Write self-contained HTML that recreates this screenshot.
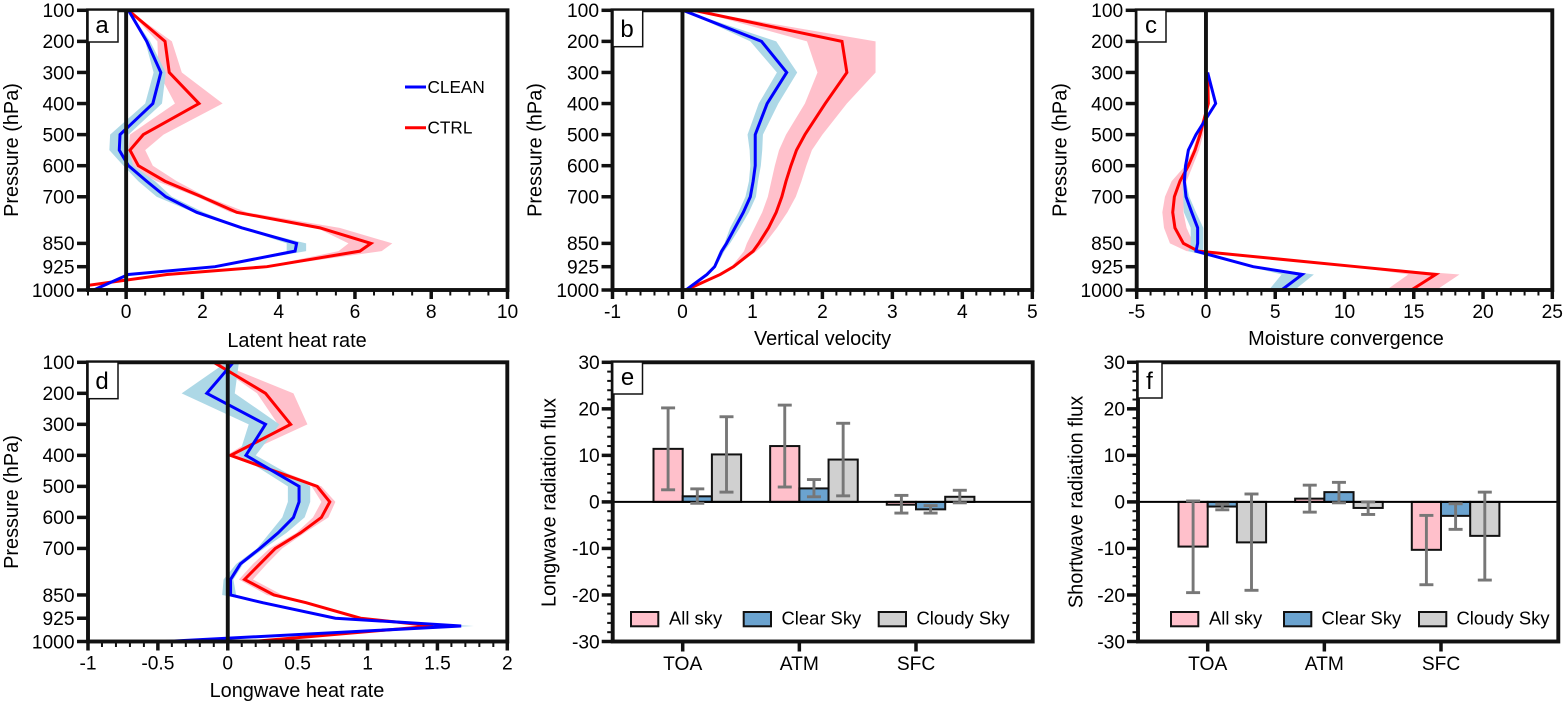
<!DOCTYPE html>
<html lang="en">
<head>
<meta charset="utf-8">
<title>Pressure profiles and radiation flux panels</title>
<style>
html,body{margin:0;padding:0;background:#fff;width:1568px;height:704px;overflow:hidden}
svg{display:block}
text{font-family:"Liberation Sans",Arial,sans-serif;fill:#000}
.tick{font-size:19.2px}
.title{font-size:19.9px}
.lg{font-size:17.2px}
.lg2{font-size:18.4px}
.letter{font-size:24px}
</style>
</head>
<body>
<svg id="chart" xmlns="http://www.w3.org/2000/svg" width="1568" height="704" viewBox="0 0 1568 704">
  <defs>
    <clipPath id="clip-a"><rect x="88" y="10" width="420" height="280"/></clipPath>
    <clipPath id="clip-b"><rect x="612" y="10" width="420" height="280"/></clipPath>
    <clipPath id="clip-c"><rect x="1136" y="10" width="416" height="280"/></clipPath>
    <clipPath id="clip-d"><rect x="88" y="362" width="420" height="280"/></clipPath>
  </defs>
  <g id="layer-a"></g>
  <g id="layer-b"></g>
  <g id="layer-c"></g>
  <g id="layer-d"></g>
  <g id="layer-e"></g>
  <g id="layer-f"></g>

  <g>
    <text class="title" x="297" y="347" text-anchor="middle">Latent heat rate</text>
    <text class="title" x="822.5" y="345" text-anchor="middle">Vertical velocity</text>
    <text class="title" x="1346" y="345" text-anchor="middle">Moisture convergence</text>
    <text class="title" x="297" y="697" text-anchor="middle">Longwave heat rate</text>
    <text class="title" text-anchor="middle" transform="translate(18,150) rotate(-90)">Pressure (hPa)</text>
    <text class="title" text-anchor="middle" transform="translate(541.5,150) rotate(-90)">Pressure (hPa)</text>
    <text class="title" text-anchor="middle" transform="translate(1066.5,150) rotate(-90)">Pressure (hPa)</text>
    <text class="title" text-anchor="middle" transform="translate(18,502) rotate(-90)">Pressure (hPa)</text>
    <text class="title" text-anchor="middle" transform="translate(555.5,502.5) rotate(-90)">Longwave radiation flux</text>
    <text class="title" text-anchor="middle" transform="translate(1082.5,502) rotate(-90)">Shortwave radiation flux</text>
  </g>

  <g>
    <line x1="405" x2="426" y1="87" y2="87" stroke="#0000ff" stroke-width="3"/>
    <text class="lg" x="427.5" y="93">CLEAN</text>
    <line x1="405" x2="426" y1="127.7" y2="127.7" stroke="#ff0000" stroke-width="3"/>
    <text class="lg" x="427.5" y="133.5">CTRL</text>
  </g>

  <g stroke-width="2">
    <rect x="631" y="612" width="27.3" height="14.3" fill="#ffc0cb" stroke="#111"/>
    <text class="lg2" x="669" y="624.5">All sky</text>
    <rect x="743.7" y="612" width="27.3" height="14.3" fill="#6ba3cf" stroke="#111"/>
    <text class="lg2" x="781.5" y="624.5">Clear Sky</text>
    <rect x="878.7" y="612" width="27.3" height="14.3" fill="#d0d0d0" stroke="#111"/>
    <text class="lg2" x="916.5" y="624.5">Cloudy Sky</text>
  </g>
  <g stroke-width="2">
    <rect x="1171" y="612" width="27.3" height="14.3" fill="#ffc0cb" stroke="#111"/>
    <text class="lg2" x="1209" y="624.5">All sky</text>
    <rect x="1284" y="612" width="27.3" height="14.3" fill="#6ba3cf" stroke="#111"/>
    <text class="lg2" x="1321.5" y="624.5">Clear Sky</text>
    <rect x="1419" y="612" width="27.3" height="14.3" fill="#d0d0d0" stroke="#111"/>
    <text class="lg2" x="1456.5" y="624.5">Cloudy Sky</text>
  </g>

  <g fill="#fff">
    <rect x="88" y="10" width="30" height="32" fill="#fff" stroke="#111" stroke-width="1.5"/>
    <text class="letter" x="102" y="33" text-anchor="middle">a</text>
    <rect x="613" y="10" width="29.7" height="36.7" fill="#fff" stroke="#111" stroke-width="1.5"/>
    <text class="letter" x="627" y="37" text-anchor="middle">b</text>
    <rect x="1136.7" y="10" width="29.3" height="32" fill="#fff" stroke="#111" stroke-width="1.5"/>
    <text class="letter" x="1151" y="33" text-anchor="middle">c</text>
    <rect x="88" y="362" width="30" height="36.7" fill="#fff" stroke="#111" stroke-width="1.5"/>
    <text class="letter" x="102" y="389" text-anchor="middle">d</text>
    <rect x="612.7" y="362" width="29.8" height="32" fill="#fff" stroke="#111" stroke-width="1.5"/>
    <text class="letter" x="627.5" y="385" text-anchor="middle">e</text>
    <rect x="1138" y="362" width="24" height="36" fill="#fff" stroke="#111" stroke-width="1.5"/>
    <text class="letter" x="1149.5" y="389" text-anchor="middle">f</text>
  </g>
</svg>

<script>
// ---------- shared categories and ticks ----------
const pressureLevels = [100,200,300,400,500,550,600,650,700,750,800,850,875,925,950,1000];
const pressureTicks = [100,200,300,400,500,600,700,850,925,1000];

// ---------- panel a: latent heat rate ----------
const aXTicks = [0,2,4,6,8,10];
const aClean    = [0.06,0.54,0.91,0.70,-0.16,-0.18,0.06,0.54,1.04,1.85,3.03,4.47,4.43,2.33,0.06,-0.85];
const aCleanLow = [0.06,0.50,0.72,0.50,-0.42,-0.44,-0.07,0.32,0.80,1.76,2.98,4.21,4.21,2.28,0.05,-0.90];
const aCleanHigh= [0.06,0.63,1.04,0.94,0.06,0.06,0.19,0.76,1.20,2.03,3.07,4.72,4.72,2.37,0.08,-0.80];
const aCtrl     = [0.06,1.02,1.13,1.91,0.45,0.10,0.32,1.02,1.98,2.90,5.08,6.42,6.13,3.69,1.07,-1.89];
const aCtrlLow  = [0.06,0.82,0.85,1.28,0.10,0.06,0.06,0.80,1.85,2.73,5.00,5.83,5.57,3.60,1.02,-1.92];
const aCtrlHigh = [0.06,1.20,1.46,2.53,0.98,0.50,0.70,1.33,2.10,3.16,5.60,6.98,6.70,3.78,1.10,-1.85];

// ---------- panel b: vertical velocity ----------
const bXTicks = [-1,0,1,2,3,4,5];
const bClean    = [0.01,1.13,1.49,1.21,1.04,1.04,1.04,1.01,0.97,0.87,0.75,0.63,0.56,0.46,0.35,0.05];
const bCleanLow = [0.01,0.97,1.35,1.09,0.93,0.96,0.97,0.95,0.90,0.80,0.68,0.60,0.53,0.44,0.33,0.03];
const bCleanHigh= [0.01,1.34,1.64,1.37,1.15,1.14,1.12,1.08,1.05,0.95,0.82,0.68,0.60,0.48,0.37,0.06];
const bCtrl     = [0.16,2.28,2.35,2.04,1.75,1.63,1.55,1.48,1.42,1.34,1.23,1.09,1.01,0.73,0.54,0.05];
const bCtrlLow  = [0.16,1.78,1.93,1.75,1.48,1.38,1.32,1.27,1.22,1.14,1.03,0.92,0.88,0.70,0.52,0.05];
const bCtrlHigh = [0.16,2.76,2.76,2.35,2.00,1.85,1.77,1.70,1.62,1.50,1.35,1.18,1.06,0.75,0.56,0.05];

// ---------- panel c: moisture convergence ----------
const cXTicks = [-5,0,5,10,15,20,25];
const cClean    = [null,null,0.12,0.70,-0.72,-1.27,-1.47,-1.56,-1.44,-1.03,-0.60,-0.60,-0.72,3.41,6.95,5.46];
const cCleanLow = [null,null,0.12,0.70,-0.72,-1.30,-1.60,-1.70,-1.65,-1.60,-1.10,-1.10,-1.27,3.17,5.46,4.54];
const cCleanHigh= [null,null,0.12,0.70,-0.70,-1.20,-1.30,-1.45,-1.20,-0.72,-0.19,-0.19,-0.20,3.65,7.79,6.40];
const cCtrl     = [null,null,0.12,0.17,-0.43,-0.79,-1.27,-1.88,-2.28,-2.40,-2.24,-1.63,-0.55,10.87,16.59,14.83];
const cCtrlLow  = [null,null,0.12,0.10,-0.60,-0.95,-1.50,-2.48,-2.96,-3.15,-3.03,-2.60,-1.40,10.60,14.60,13.03];
const cCtrlHigh = [null,null,0.14,0.20,-0.20,-0.50,-0.95,-1.40,-1.60,-1.63,-1.40,-0.90,-0.20,11.10,18.30,16.63];

// ---------- panel d: longwave heat rate ----------
const dXTicks = [-1,-0.5,0,0.5,1,1.5,2];
const dClean    = [0.04,-0.15,0.27,0.13,0.51,0.51,0.47,0.36,0.23,0.09,0.02,0.02,0.25,0.77,1.67,-0.45];
const dCleanLow = [-0.01,-0.33,0.15,0.08,0.43,0.43,0.39,0.30,0.21,0.06,-0.03,-0.04,0.24,0.76,1.65,-0.47];
const dCleanHigh= [0.08,0.05,0.37,0.20,0.59,0.59,0.55,0.42,0.26,0.11,0.04,0.06,0.26,0.78,1.76,-0.43];
const dCtrl     = [-0.10,0.27,0.45,0.02,0.64,0.73,0.67,0.52,0.34,0.23,0.12,0.33,0.56,0.95,1.47,0.18];
const dCtrlLow  = [-0.11,0.21,0.36,-0.01,0.60,0.67,0.61,0.49,0.30,0.18,0.08,0.28,0.54,0.93,1.45,0.15];
const dCtrlHigh = [-0.08,0.47,0.57,0.09,0.67,0.77,0.72,0.55,0.39,0.28,0.18,0.39,0.58,0.97,1.52,0.20];

// ---------- panels e and f: radiation flux bars ----------
const fluxCategories = ["TOA","ATM","SFC"];
const fluxTicks = [30,20,10,0,-10,-20,-30];

const eAllSky      = [11.4,12.0,-0.6];
const eAllSkyHi    = [20.2,20.8,1.4];
const eAllSkyLo    = [2.6,3.2,-2.4];
const eClearSky    = [1.2,2.9,-1.6];
const eClearSkyHi  = [2.8,4.8,-0.8];
const eClearSkyLo  = [-0.3,1.1,-2.4];
const eCloudySky   = [10.2,9.1,1.1];
const eCloudySkyHi = [18.3,16.9,2.5];
const eCloudySkyLo = [2.1,1.3,-0.2];

const fAllSky      = [-9.6,0.7,-10.3];
const fAllSkyHi    = [0.2,3.6,-2.9];
const fAllSkyLo    = [-19.5,-2.2,-17.8];
const fClearSky    = [-1.0,2.1,-3.0];
const fClearSkyHi  = [-0.5,4.2,-0.4];
const fClearSkyLo  = [-1.7,-0.2,-5.9];
const fCloudySky   = [-8.7,-1.3,-7.3];
const fCloudySkyHi = [1.7,0.0,2.1];
const fCloudySkyLo = [-19.0,-2.7,-16.8];

// ---------- drawing ----------
const NS = "http://www.w3.org/2000/svg";
const INK = "#111";

function mk(parent, tag, attrs, txt) {
  const el = document.createElementNS(NS, tag);
  for (const k in attrs) el.setAttribute(k, attrs[k]);
  if (txt !== undefined) el.textContent = txt;
  parent.appendChild(el);
  return el;
}

function makeLinear(d0, d1, r0, r1) {
  return v => r0 + (v - d0) * (r1 - r0) / (d1 - d0);
}

function drawFrame(g, box, slug) {
  const frame = mk(g, "rect", {x: box.left, y: box.top, width: box.right - box.left, height: box.bottom - box.top, fill: "none", stroke: INK, "stroke-width": 3.9});
  
  
}

function drawProfilePanel(cfg) {
  const g = document.getElementById(cfg.layer);
  const box = cfg.box;
  const x = makeLinear(cfg.xMin, cfg.xMax, box.left, box.right);
  const y = makeLinear(100, 1000, box.top, box.bottom);

  const marks = mk(g, "g", {"clip-path": "url(#" + cfg.clip + ")"});
  
  

  function bandPoints(low, high) {
    const fwd = [], back = [];
    pressureLevels.forEach((p, i) => {
      if (low[i] === null) return;
      fwd.push(x(low[i]).toFixed(2) + "," + y(p).toFixed(2));
      back.unshift(x(high[i]).toFixed(2) + "," + y(p).toFixed(2));
    });
    return fwd.concat(back).join(" ");
  }
  function linePoints(vals) {
    const pts = [];
    pressureLevels.forEach((p, i) => {
      if (vals[i] === null) return;
      pts.push(x(vals[i]).toFixed(2) + "," + y(p).toFixed(2));
    });
    return pts.join(" ");
  }

  const ctrlBand = mk(marks, "polygon", {points: bandPoints(cfg.ctrlLow, cfg.ctrlHigh), fill: "#ffc0cb"});
  
  

  const cleanBand = mk(marks, "polygon", {points: bandPoints(cfg.cleanLow, cfg.cleanHigh), fill: "#add8e6"});
  
  

  const ctrlLine = mk(marks, "polyline", {points: linePoints(cfg.ctrl), fill: "none", stroke: "#ff0000", "stroke-width": 3, "stroke-linejoin": "miter"});
  
  

  const cleanLine = mk(marks, "polyline", {points: linePoints(cfg.clean), fill: "none", stroke: "#0000ff", "stroke-width": 3, "stroke-linejoin": "miter"});
  
  

  const zero = mk(g, "line", {x1: x(0), x2: x(0), y1: box.top, y2: box.bottom, stroke: INK, "stroke-width": 3.9});
  
  

  pressureTicks.forEach(p => {
    const t = mk(g, "line", {x1: box.left - 11, x2: box.left, y1: y(p), y2: y(p), stroke: INK, "stroke-width": 3.5});
    
    
    const l = mk(g, "text", {class: "tick", x: box.left - 13.5, y: y(p) + 6.8, "text-anchor": "end"}, String(p));
    
    
  });

  for (let k = 0; cfg.xMin + k * cfg.minorStep <= cfg.xMax + 1e-9; k++) {
    const v = cfg.xMin + k * cfg.minorStep;
    const t = mk(g, "line", {x1: x(v), x2: x(v), y1: box.bottom, y2: box.bottom + 5.5, stroke: INK, "stroke-width": 2});
    
    
  }
  cfg.xTicks.forEach(v => {
    const t = mk(g, "line", {x1: x(v), x2: x(v), y1: box.bottom, y2: box.bottom + 9, stroke: INK, "stroke-width": 3.5});
    
    
    const l = mk(g, "text", {class: "tick", x: x(v), y: box.bottom + 28, "text-anchor": "middle"}, String(v));
    
    
  });

  drawFrame(g, box, cfg.slug);
}

function drawBarPanel(cfg) {
  const g = document.getElementById(cfg.layer);
  const box = cfg.box;
  const y = makeLinear(30, -30, box.top, box.bottom);
  const catX = i => cfg.firstTick + i * cfg.catStep;
  const barW = 29.2;

  cfg.series.forEach((s, j) => {
    fluxCategories.forEach((c, i) => {
      const left = catX(i) + (j - 1) * barW;
      const top = Math.min(y(0), y(s.values[i]));
      const h = Math.abs(y(s.values[i]) - y(0));
      const bar = mk(g, "rect", {x: left, y: top, width: barW, height: h, fill: s.color, stroke: INK, "stroke-width": 2});
      
      
    });
  });

  const zero = mk(g, "line", {x1: box.left, x2: box.right, y1: y(0), y2: y(0), stroke: "#000", "stroke-width": 2});
  
  

  cfg.series.forEach((s, j) => {
    fluxCategories.forEach((c, i) => {
      const cx = catX(i) + (j - 1) * barW + barW / 2;
      const errG = mk(g, "g", {stroke: "#777", "stroke-width": 2.9});
      
      
      mk(errG, "line", {x1: cx, x2: cx, y1: y(s.hi[i]), y2: y(s.lo[i])});
      mk(errG, "line", {x1: cx - 7, x2: cx + 7, y1: y(s.hi[i]), y2: y(s.hi[i])});
      mk(errG, "line", {x1: cx - 7, x2: cx + 7, y1: y(s.lo[i]), y2: y(s.lo[i])});
    });
  });

  for (let v = -30; v <= 30; v += 2) {
    const t = mk(g, "line", {x1: box.left - 5.5, x2: box.left, y1: y(v), y2: y(v), stroke: INK, "stroke-width": 2});
    
    
  }
  fluxTicks.forEach(v => {
    const t = mk(g, "line", {x1: box.left - 11, x2: box.left, y1: y(v), y2: y(v), stroke: INK, "stroke-width": 3.5});
    
    
    const l = mk(g, "text", {class: "tick", x: box.left - 13, y: y(v) + 6.8, "text-anchor": "end"}, String(v));
    
    
  });
  fluxCategories.forEach((c, i) => {
    const t = mk(g, "line", {x1: catX(i), x2: catX(i), y1: box.bottom, y2: box.bottom + 10, stroke: INK, "stroke-width": 3.5});
    
    
    const l = mk(g, "text", {class: "tick", x: catX(i), y: box.bottom + 28.5, "text-anchor": "middle"}, c);
    
    
  });

  drawFrame(g, box, cfg.slug);
}

drawProfilePanel({layer: "layer-a", slug: "a", clip: "clip-a", box: {left: 88, right: 507.5, top: 10.3, bottom: 290},
  xMin: -1, xMax: 10, minorStep: 0.5, xTicks: aXTicks,
  clean: aClean, cleanLow: aCleanLow, cleanHigh: aCleanHigh, ctrl: aCtrl, ctrlLow: aCtrlLow, ctrlHigh: aCtrlHigh});
drawProfilePanel({layer: "layer-b", slug: "b", clip: "clip-b", box: {left: 612.5, right: 1032.3, top: 10.3, bottom: 290},
  xMin: -1, xMax: 5, minorStep: 0.2, xTicks: bXTicks,
  clean: bClean, cleanLow: bCleanLow, cleanHigh: bCleanHigh, ctrl: bCtrl, ctrlLow: bCtrlLow, ctrlHigh: bCtrlHigh});
drawProfilePanel({layer: "layer-c", slug: "c", clip: "clip-c", box: {left: 1136.7, right: 1552.3, top: 10.3, bottom: 290},
  xMin: -5, xMax: 25, minorStep: 1, xTicks: cXTicks,
  clean: cClean, cleanLow: cCleanLow, cleanHigh: cCleanHigh, ctrl: cCtrl, ctrlLow: cCtrlLow, ctrlHigh: cCtrlHigh});
drawProfilePanel({layer: "layer-d", slug: "d", clip: "clip-d", box: {left: 88, right: 507.3, top: 362.3, bottom: 641.5},
  xMin: -1, xMax: 2, minorStep: 0.1, xTicks: dXTicks,
  clean: dClean, cleanLow: dCleanLow, cleanHigh: dCleanHigh, ctrl: dCtrl, ctrlLow: dCtrlLow, ctrlHigh: dCtrlHigh});

drawBarPanel({layer: "layer-e", slug: "e", box: {left: 612.7, right: 1032.7, top: 362.3, bottom: 641.5},
  firstTick: 682.7, catStep: 116.65,
  series: [
    {slug: "all-sky", color: "#ffc0cb", values: eAllSky, hi: eAllSkyHi, lo: eAllSkyLo},
    {slug: "clear-sky", color: "#6ba3cf", values: eClearSky, hi: eClearSkyHi, lo: eClearSkyLo},
    {slug: "cloudy-sky", color: "#d0d0d0", values: eCloudySky, hi: eCloudySkyHi, lo: eCloudySkyLo}
  ]});
drawBarPanel({layer: "layer-f", slug: "f", box: {left: 1138, right: 1558.3, top: 362.3, bottom: 641.5},
  firstTick: 1207.7, catStep: 116.65,
  series: [
    {slug: "all-sky", color: "#ffc0cb", values: fAllSky, hi: fAllSkyHi, lo: fAllSkyLo},
    {slug: "clear-sky", color: "#6ba3cf", values: fClearSky, hi: fClearSkyHi, lo: fClearSkyLo},
    {slug: "cloudy-sky", color: "#d0d0d0", values: fCloudySky, hi: fCloudySkyHi, lo: fCloudySkyLo}
  ]});
</script>
</body>
</html>
